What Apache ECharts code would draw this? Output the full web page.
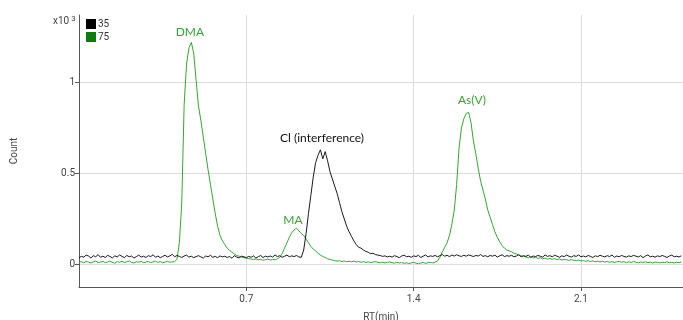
<!DOCTYPE html>
<html><head><meta charset="utf-8">
<script src="https://cdn.jsdelivr.net/npm/echarts@6/dist/echarts.min.js"></script>
<style>html,body{margin:0;padding:0;background:#fff}#c{width:683px;height:320px}</style>
</head><body><div id="c"></div>
<script>
// Retention time (min)
const rt = [
0.00,0.01,0.02,0.03,0.04,0.05,0.06,0.07,0.08,0.09,0.10,0.11,0.12,0.13,0.14,0.15,0.16,0.17,0.18,0.19,
0.20,0.21,0.22,0.23,0.24,0.25,0.26,0.27,0.28,0.29,0.30,0.31,0.32,0.33,0.34,0.35,0.36,0.37,0.38,0.39,
0.40,0.41,0.42,0.43,0.44,0.45,0.46,0.47,0.48,0.49,0.50,0.51,0.52,0.53,0.54,0.55,0.56,0.57,0.58,0.59,
0.60,0.61,0.62,0.63,0.64,0.65,0.66,0.67,0.68,0.69,0.70,0.71,0.72,0.73,0.74,0.75,0.76,0.77,0.78,0.79,
0.80,0.81,0.82,0.83,0.84,0.85,0.86,0.87,0.88,0.89,0.90,0.91,0.92,0.93,0.94,0.95,0.96,0.97,0.98,0.99,
1.00,1.01,1.02,1.03,1.04,1.05,1.06,1.07,1.08,1.09,1.10,1.11,1.12,1.13,1.14,1.15,1.16,1.17,1.18,1.19,
1.20,1.21,1.22,1.23,1.24,1.25,1.26,1.27,1.28,1.29,1.30,1.31,1.32,1.33,1.34,1.35,1.36,1.37,1.38,1.39,
1.40,1.41,1.42,1.43,1.44,1.45,1.46,1.47,1.48,1.49,1.50,1.51,1.52,1.53,1.54,1.55,1.56,1.57,1.58,1.59,
1.60,1.61,1.62,1.63,1.64,1.65,1.66,1.67,1.68,1.69,1.70,1.71,1.72,1.73,1.74,1.75,1.76,1.77,1.78,1.79,
1.80,1.81,1.82,1.83,1.84,1.85,1.86,1.87,1.88,1.89,1.90,1.91,1.92,1.93,1.94,1.95,1.96,1.97,1.98,1.99,
2.00,2.01,2.02,2.03,2.04,2.05,2.06,2.07,2.08,2.09,2.10,2.11,2.12,2.13,2.14,2.15,2.16,2.17,2.18,2.19,
2.20,2.21,2.22,2.23,2.24,2.25,2.26,2.27,2.28,2.29,2.30,2.31,2.32,2.33,2.34,2.35,2.36,2.37,2.38,2.39,
2.40,2.41,2.42,2.43,2.44,2.45,2.46,2.47,2.48,2.49,2.50,2.51,2.52
];
// m/z 35 counts (x10^3)
const count35 = [
.038,.045,.041,.052,.047,.036,.049,.043,.055,.040,
.046,.039,.051,.044,.037,.048,.042,.053,.045,.038,
.050,.043,.047,.036,.044,.052,.041,.046,.039,.049,
.044,.054,.040,.047,.038,.045,.051,.042,.048,.056,
.043,.050,.045,.039,.047,.052,.041,.046,.038,.044,
.049,.042,.036,.047,.043,.051,.040,.045,.038,.048,
.042,.046,.039,.044,.035,.049,.041,.037,.046,.043,
.038,.045,.040,.048,.036,.043,.050,.039,.046,.042,
.047,.041,.053,.044,.049,.040,.046,.052,.043,.048,
.044,.050,.042,
.040,.08,.17,.28,.38,.48,.56,.60,.63,.58,.62,.57,.51,.47,.43,.39,.34,.29,.25,.21,
.18,.155,.13,.11,.095,.09,.08,.072,.068,.06,.062,.055,.052,.05,.045,.048,.042,.046,
.041,.049,.044,.038,.047,.052,.043,.046,.040,.048,
.044,.051,.039,.046,.053,.042,.048,.045,.050,.043,
.049,.055,.046,.051,.044,.052,.047,.054,.048,.045,
.051,.046,.053,.049,.044,.050,.047,.055,.045,.049,
.043,.050,.046,.052,.041,.048,.054,.044,.049,.046,
.051,.043,.047,.055,.042,.049,.045,.052,.040,.047,
.044,.050,.046,.041,.053,.045,.049,.043,.051,.046,
.040,.048,.044,.052,.046,.041,.049,.045,.053,.043,
.047,.042,.050,.045,.039,.048,.044,.051,.046,.042,
.049,.044,.053,.040,.047,.043,.050,.045,.041,.048,
.044,.051,.046,.042,.049,.038,.047,.053,.043,.046,
.041,.048,.044,.050,.045,.039,.047,.052,.043,.046,
.042,.048
];
// m/z 75 counts (x10^3)
const count75 = [
.012,.016,.010,.018,.013,.009,.015,.020,.011,.014,
.017,.010,.014,.019,.012,.008,.016,.013,.018,.011,
.015,.020,.012,.009,.016,.013,.018,.010,.014,.017,
.011,.015,.019,.012,.016,.010,.014,.018,.013,.015,
.016,
.03,.12,.34,.88,1.10,1.19,1.22,1.16,1.01,.87,.79,.70,.61,.52,.44,.36,.28,.21,.16,.13,
.11,.09,.078,.068,.058,.05,.046,.041,.038,.035,
.033,.030,.028,.031,.026,.029,.024,.027,.030,.025,.028,.026,.032,
.04,.06,.09,.12,.15,.175,.19,.20,.185,.17,.16,.14,.12,.10,.085,.075,.062,.052,.045,.038,.032,.028,.025,
.022,.019,.021,.017,.020,.016,.018,.015,.019,.014,
.017,.013,.016,.012,.015,.011,.014,.017,.012,.010,
.013,.009,.012,.015,.010,.008,.012,.009,.011,.007,
.010,.006,.009,.012,.008,.005,.009,.011,.007,.010,
.012,.009,.014,
.02,.04,.07,.095,.12,.16,.22,.30,.44,.64,.75,.80,.83,.835,.78,.68,.61,.53,.46,.41,
.36,.30,.26,.22,.18,.15,.125,.105,.09,.08,.075,.07,.062,.058,.052,.048,.045,
.042,.038,.044,.036,.040,.034,.038,.032,.036,.030,
.034,.029,.033,.027,.031,.025,.029,.026,.023,.027,
.024,.021,.025,.019,.022,.018,.021,.017,.020,.016,
.019,.015,.018,.014,.017,.013,.016,.012,.015,.018,
.013,.016,.011,.015,.012,.017,.013,.010,.014,.012,
.015,.011,.013,.009,.014,.012,.010,.013,.011,.015,
.010,.013,.009,.012,.011,.014
];
const seriesNames = ['35', '75'];
const yTicks = [0, 0.5, 1];
const peakLabels = [
  {name: 'DMA', rt: 0.464, y: 1.276, series: '75'},
  {name: 'MA', rt: 0.895, y: 0.243, series: '75'},
  {name: 'Cl (interference)', rt: 1.017, y: 0.694, series: '35'},
  {name: 'As(V)', rt: 1.644, y: 0.903, series: '75'}
];

const GREEN = '#35a535';
const BLACK = '#1a1a1a';
const toPairs = (vals) => rt.map((x, i) => [x, vals[i]]);
const marks = (s, color) => ({
  symbol: 'circle', symbolSize: 0, silent: true,
  label: {show: true, position: 'inside', formatter: '{b}', color: color,
          fontFamily: 'Lato', fontSize: 12},
  data: peakLabels.filter(p => p.series === s).map(p => ({name: p.name, coord: [p.rt, p.y]}))
});

const chart = echarts.init(document.getElementById('c'), null, {renderer: 'canvas'});
chart.setOption({
  animation: false,
  backgroundColor: '#fff',
  grid: {left: 79, right: 0, top: 15, bottom: 33, containLabel: false, outerBoundsMode: 'none'},
  legend: {
    orient: 'vertical', left: 81, top: 14, itemWidth: 10, itemHeight: 10, itemGap: 3,
    icon: 'rect', textStyle: {fontSize: 10, color: '#333', fontFamily: 'Roboto', padding: [0,0,0,-3]},
    data: [
      {name: seriesNames[0], itemStyle: {color: '#000'}},
      {name: seriesNames[1], itemStyle: {color: '#0a7d0a'}}
    ]
  },
  graphic: [{
    type: 'text', left: 53, top: 15,
    style: {
      text: '{a|x10}{b| 3}',
      rich: {a: {fontSize: 10, fill: '#444', fontFamily: 'Roboto'},
             b: {fontSize: 8, fill: '#444', fontFamily: 'Roboto', verticalAlign: 'top', padding: [0,0,4,0]}}
    }
  }],
  xAxis: {
    type: 'value', min: 0, max: 2.527, interval: 0.7,
    name: 'RT(min)', nameLocation: 'middle', nameGap: 25,
    nameTextStyle: {fontSize: 10, color: '#444', fontFamily: 'Roboto'},
    axisLine: {show: true, onZero: false, lineStyle: {color: '#555', width: 1}},
    axisTick: {show: true, length: 4, lineStyle: {color: '#555'}},
    axisLabel: {fontSize: 10, color: '#444', fontFamily: 'Roboto', margin: 7,
                showMinLabel: false, showMaxLabel: false,
                formatter: v => v === 0 ? '' : v.toFixed(1)},
    splitLine: {show: true, lineStyle: {color: '#dcdcdc', width: 1}}
  },
  yAxis: {
    type: 'value', min: -0.123, max: 1.37,
    name: 'Count', nameLocation: 'middle', nameGap: 60, nameRotate: 90,
    nameTextStyle: {fontSize: 10, color: '#444', fontFamily: 'Roboto'},
    axisLine: {show: true, lineStyle: {color: '#555', width: 1}},
    axisTick: {show: true, length: 4, customValues: yTicks, lineStyle: {color: '#555'}},
    axisLabel: {fontSize: 10, color: '#444', fontFamily: 'Roboto', margin: 4, customValues: yTicks,
                formatter: v => String(v)},
    splitLine: {show: true, lineStyle: {color: '#dcdcdc', width: 1}}
  },
  series: [
    {name: seriesNames[0], type: 'line', data: toPairs(count35), showSymbol: false, symbol: 'none',
     lineStyle: {color: BLACK, width: 1}, itemStyle: {color: '#000'}, z: 3,
     markPoint: marks('35', '#111')},
    {name: seriesNames[1], type: 'line', data: toPairs(count75), showSymbol: false, symbol: 'none',
     lineStyle: {color: GREEN, width: 1}, itemStyle: {color: '#0a7d0a'}, z: 2,
     markPoint: marks('75', GREEN)}
  ]
});
</script>
</body></html>
